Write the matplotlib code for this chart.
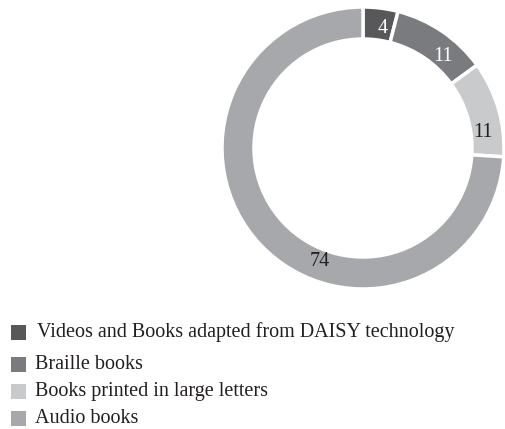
import matplotlib.pyplot as plt
from matplotlib.patches import Rectangle
import numpy as np

plt.rcParams['font.family'] = ['Liberation Serif', 'DejaVu Serif']

categories = ['Videos and Books adapted from DAISY technology',
              'Braille books',
              'Books printed in large letters',
              'Audio books']
values = [4, 11, 11, 74]
colors = ['#58585a', '#7a7b7e', '#c9cacc', '#a7a8ab']
label_colors = ['white', 'white', '#231f20', '#231f20']
# shift of each value label along the ring, degrees
label_shift = [-2, -7, -9, 26]

W, H = 505, 429
fig = plt.figure(figsize=(W / 100, H / 100), dpi=100)

# ring geometry in pixels
cx, cy, R, ring = 363, 148, 141, 32
ax = fig.add_axes([(cx - R) / W, (H - cy - R) / H, 2 * R / W, 2 * R / H])
wedges, _ = ax.pie(values, colors=colors, startangle=90, counterclock=False,
                   radius=1, wedgeprops=dict(width=ring / R, edgecolor='white',
                                             linewidth=2.5))
for w in wedges:
    w.set_clip_on(False)
ax.set_xlim(-1, 1)
ax.set_ylim(-1, 1)
ax.set_aspect('equal')
ax.axis('off')

total = sum(values)
cum = np.cumsum(values) - np.array(values) / 2
for v, c, col, sh in zip(values, cum, label_colors, label_shift):
    ang = np.deg2rad(90 - c / total * 360 + sh)
    r = 0.86
    ax.text(r * np.cos(ang), r * np.sin(ang), str(v), ha='center', va='center',
            fontsize=14.5, color=col, clip_on=False)

# legend rows: square top (px), text x (px)
row_top = [325, 357, 384, 411]
text_x = [37, 35, 35, 35]
sq = 15
for name, col, top, tx in zip(categories, colors, row_top, text_x):
    fig.patches.append(Rectangle((11 / W, (H - top - sq) / H), sq / W, sq / H,
                                 transform=fig.transFigure, facecolor=col,
                                 edgecolor='none'))
    fig.text(tx / W, (H - top - sq / 2) / H, name, ha='left', va='center',
             fontsize=14.5, color='#231f20')

fig.savefig('out.png', dpi=100)
